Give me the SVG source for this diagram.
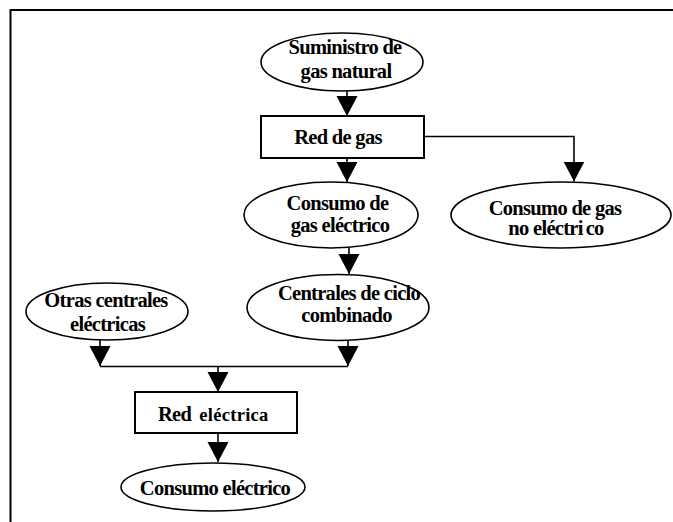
<svg xmlns="http://www.w3.org/2000/svg" width="673" height="522" viewBox="0 0 673 522">
<style>
.shape{fill:#fff;stroke:#000;stroke-width:1.6}
.box{fill:#fff;stroke:#000;stroke-width:2}
.lbl{font-family:"Liberation Serif","Times New Roman",serif;font-weight:bold;font-size:20.5px;letter-spacing:-0.7px;fill:#000;text-anchor:middle}
.conn{fill:none;stroke:#000;stroke-width:1.6}
</style>
<defs>
<marker id="ah" markerUnits="userSpaceOnUse" markerWidth="21" markerHeight="22" refX="20" refY="10.5" orient="auto">
<path d="M0,0 L20,10.5 L0,21 z" fill="#000"/>
</marker>
</defs>
<rect width="673" height="522" fill="#fff"/>
<path d="M10.5,522 V10 H673" fill="none" stroke="#000" stroke-width="2"/>

<g id="connectors">
<line class="conn" x1="347" y1="90" x2="347" y2="116" marker-end="url(#ah)"/>
<line class="conn" x1="347" y1="158" x2="347" y2="182" marker-end="url(#ah)"/>
<path class="conn" d="M424,136.5 H574 V181.5" marker-end="url(#ah)"/>
<line class="conn" x1="349" y1="248" x2="349" y2="274" marker-end="url(#ah)"/>
<line class="conn" x1="100" y1="340" x2="100" y2="366" marker-end="url(#ah)"/>
<line class="conn" x1="348" y1="340" x2="348" y2="366" marker-end="url(#ah)"/>
<line class="conn" x1="100" y1="366.5" x2="348" y2="366.5"/>
<line class="conn" x1="218" y1="366.5" x2="218" y2="392" marker-end="url(#ah)"/>
<line class="conn" x1="218" y1="433" x2="218" y2="462" marker-end="url(#ah)"/>
</g>

<g id="suministro">
<ellipse class="shape" cx="342" cy="62" rx="81" ry="29"/>
<text class="lbl" x="345" y="53.5">Suministro de</text>
<text class="lbl" x="346" y="78">gas natural</text>
</g>

<g id="red-gas">
<rect class="box" x="261" y="116" width="163" height="42"/>
<text class="lbl" x="338" y="143.5">Red de gas</text>
</g>

<g id="consumo-gas-electrico">
<ellipse class="shape" cx="331" cy="215" rx="87" ry="33"/>
<text class="lbl" x="337.5" y="210">Consumo de</text>
<text class="lbl" x="340" y="232">gas eléctrico</text>
</g>

<g id="consumo-gas-no-electrico">
<ellipse class="shape" cx="561" cy="215" rx="110" ry="33"/>
<text class="lbl" x="555" y="214.5">Consumo de gas</text>
<text class="lbl" x="556" y="235">no eléctri<tspan dx="3">co</tspan></text>
</g>

<g id="centrales-ciclo">
<ellipse class="shape" cx="338" cy="307.5" rx="91" ry="33"/>
<text class="lbl" x="349" y="300">Centrales de ciclo</text>
<text class="lbl" x="346.5" y="321.5">combinado</text>
</g>

<g id="otras-centrales">
<ellipse class="shape" cx="107" cy="311.5" rx="81" ry="28.5"/>
<text class="lbl" x="106" y="307">Otras centrales</text>
<text class="lbl" x="107.5" y="330.5">eléctricas</text>
</g>

<g id="red-electrica">
<rect class="box" x="135" y="392" width="162" height="41"/>
<text class="lbl" x="158" y="420.5" style="text-anchor:start">Red<tspan dx="8" style="font-size:18.5px;letter-spacing:0.3px">eléctrica</tspan></text>
</g>

<g id="consumo-electrico">
<ellipse class="shape" cx="213" cy="487" rx="92" ry="24"/>
<text class="lbl" x="215" y="495">Consumo eléctrico</text>
</g>
</svg>
